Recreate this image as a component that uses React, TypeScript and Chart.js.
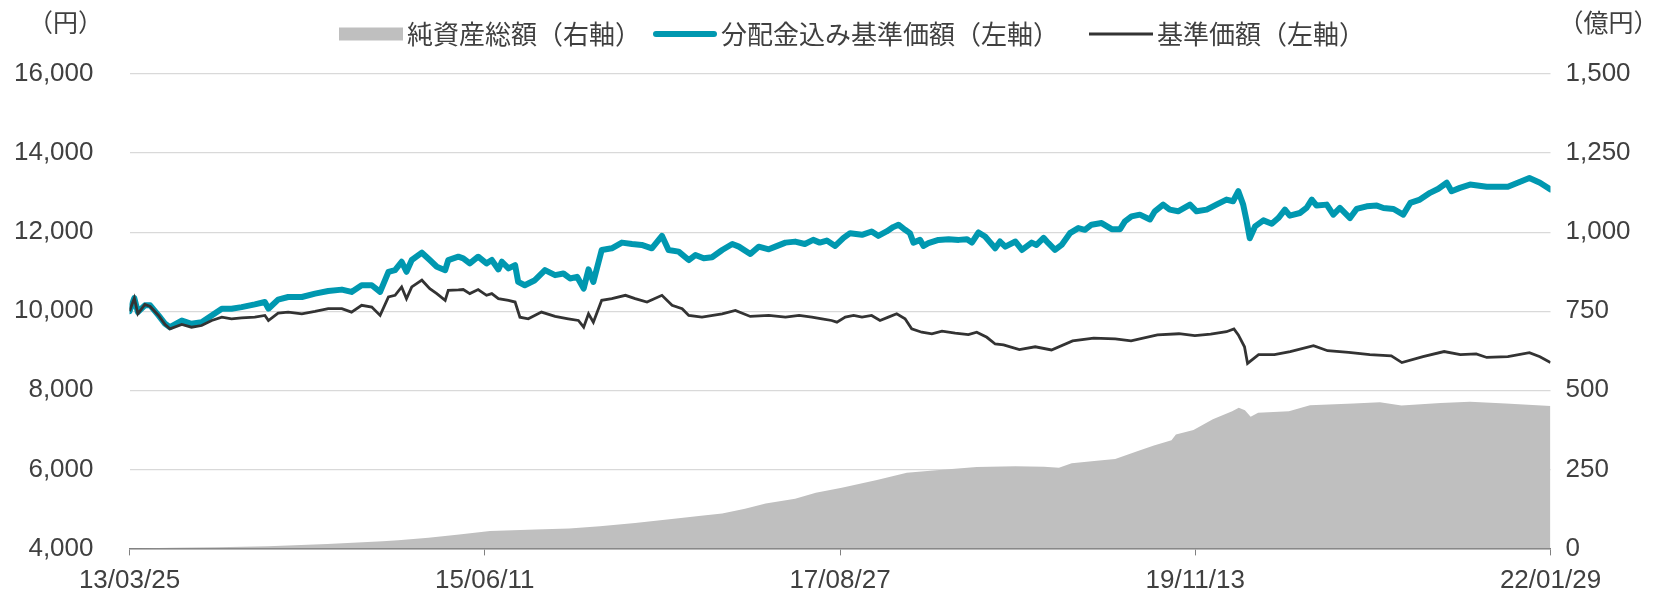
import React, { useEffect, useRef } from 'react';
import { Chart, registerables } from 'chart.js';

Chart.register(...registerables);

// x values are days elapsed since 2013-03-25
const TICK_DAYS = [0, 808, 1616, 2424, 3232];
const TICK_LABELS = ['13/03/25', '15/06/11', '17/08/27', '19/11/13', '22/01/29'];
const LEFT_AXIS_TITLE = '（円）';
const RIGHT_AXIS_TITLE = '（億円）';
const LEGEND_LABELS = ['純資産総額（右軸）', '分配金込み基準価額（左軸）', '基準価額（左軸）'];

// 分配金込み基準価額 [day, 円]
const PRICE_WITH_DIV: [number, number][] = [
  [0, 10000], [11, 10330], [19, 9980], [35, 10148], [47, 10148], [66, 9893], [81, 9681], [92, 9595],
  [119, 9765], [141, 9681], [164, 9722], [187, 9893], [210, 10063], [232, 10063], [255, 10104],
  [285, 10173], [308, 10232], [316, 10063], [338, 10293], [361, 10359], [392, 10359], [422, 10446],
  [452, 10512], [483, 10546], [505, 10487], [528, 10657], [551, 10657], [570, 10487], [589, 10996],
  [604, 11038], [619, 11251], [630, 10996], [642, 11294], [665, 11480], [683, 11294], [699, 11124],
  [718, 11038], [725, 11294], [748, 11378], [759, 11338], [774, 11210], [793, 11378], [812, 11210],
  [824, 11295], [839, 11057], [847, 11251], [862, 11083], [877, 11167], [884, 10741], [899, 10657],
  [922, 10784], [945, 11039], [968, 10912], [987, 10954], [1002, 10828], [1018, 10870], [1033, 10573],
  [1044, 11057], [1055, 10741], [1074, 11549], [1097, 11591], [1120, 11735], [1143, 11700],
  [1165, 11676], [1188, 11591], [1211, 11906], [1226, 11549], [1249, 11507], [1272, 11294],
  [1287, 11421], [1306, 11338], [1325, 11364], [1348, 11549], [1371, 11700], [1386, 11633],
  [1412, 11447], [1431, 11633], [1454, 11566], [1469, 11633], [1492, 11735], [1514, 11760],
  [1536, 11700], [1555, 11804], [1570, 11735], [1586, 11787], [1605, 11651], [1624, 11855],
  [1639, 11974], [1666, 11932], [1688, 12017], [1703, 11906], [1722, 12017], [1737, 12127],
  [1749, 12187], [1764, 12059], [1775, 11974], [1783, 11735], [1798, 11804], [1806, 11651],
  [1817, 11720], [1840, 11804], [1863, 11820], [1886, 11804], [1905, 11820], [1916, 11735],
  [1931, 11991], [1946, 11889], [1969, 11592], [1980, 11762], [1992, 11633], [2015, 11762],
  [2030, 11549], [2052, 11735], [2063, 11676], [2079, 11855], [2090, 11720], [2105, 11549],
  [2120, 11676], [2139, 11974], [2158, 12102], [2173, 12059], [2188, 12187], [2211, 12229],
  [2234, 12076], [2253, 12076], [2264, 12272], [2279, 12397], [2298, 12442], [2321, 12320],
  [2332, 12527], [2351, 12696], [2366, 12569], [2385, 12527], [2412, 12696], [2427, 12527],
  [2450, 12569], [2472, 12696], [2495, 12823], [2510, 12781], [2522, 13034], [2533, 12696],
  [2541, 12270], [2548, 11847], [2560, 12144], [2579, 12297], [2598, 12212], [2613, 12357],
  [2628, 12569], [2639, 12416], [2662, 12484], [2677, 12611], [2689, 12823], [2700, 12671],
  [2723, 12696], [2738, 12442], [2753, 12611], [2776, 12357], [2791, 12586], [2814, 12654],
  [2837, 12671], [2852, 12611], [2875, 12586], [2897, 12442], [2913, 12739], [2935, 12823],
  [2958, 12994], [2977, 13096], [2996, 13249], [3007, 13034], [3026, 13119], [3049, 13204],
  [3087, 13150], [3135, 13150], [3184, 13370], [3208, 13250], [3232, 13080],
];

// 基準価額 [day, 円]
const PRICE: [number, number][] = [
  [0, 10000], [11, 10330], [19, 9935], [35, 10173], [47, 10120], [66, 9893], [81, 9663], [92, 9554],
  [119, 9663], [141, 9595], [164, 9638], [187, 9765], [210, 9849], [232, 9807], [255, 9832],
  [285, 9849], [308, 9893], [316, 9765], [338, 9951], [361, 9977], [392, 9935], [422, 9994],
  [452, 10063], [483, 10063], [505, 9977], [528, 10148], [551, 10104], [570, 9893], [589, 10359],
  [604, 10402], [619, 10614], [630, 10317], [642, 10614], [665, 10785], [683, 10572], [699, 10446],
  [718, 10275], [725, 10530], [748, 10540], [759, 10548], [774, 10445], [793, 10548], [812, 10402],
  [824, 10445], [839, 10318], [862, 10275], [877, 10232], [888, 9849], [907, 9807], [937, 9977],
  [968, 9867], [998, 9807], [1021, 9765], [1033, 9595], [1044, 9934], [1055, 9722], [1074, 10275],
  [1097, 10318], [1128, 10402], [1150, 10318], [1177, 10232], [1211, 10402], [1234, 10148],
  [1257, 10063], [1272, 9893], [1302, 9849], [1348, 9934], [1378, 10020], [1412, 9867], [1454, 9893],
  [1492, 9849], [1523, 9893], [1552, 9849], [1575, 9807], [1597, 9765], [1609, 9722], [1628, 9849],
  [1647, 9893], [1666, 9849], [1688, 9893], [1707, 9765], [1726, 9849], [1745, 9934], [1764, 9807],
  [1779, 9554], [1802, 9468], [1825, 9426], [1848, 9494], [1878, 9443], [1908, 9409], [1927, 9468],
  [1950, 9340], [1969, 9170], [1988, 9150], [2024, 9030], [2060, 9100], [2097, 9020], [2145, 9250],
  [2193, 9320], [2242, 9300], [2278, 9250], [2338, 9400], [2387, 9430], [2423, 9380], [2459, 9420],
  [2495, 9480], [2512, 9550], [2522, 9400], [2536, 9100], [2543, 8680], [2568, 8900], [2604, 8900],
  [2640, 8980], [2693, 9130], [2725, 9000], [2773, 8960], [2821, 8900], [2870, 8870], [2894, 8700],
  [2942, 8850], [2990, 8980], [3027, 8900], [3063, 8920], [3087, 8830], [3135, 8850], [3184, 8950],
  [3208, 8850], [3232, 8700],
];

// 純資産総額 [day, 億円]
const NET_ASSETS: [number, number][] = [
  [0, 0], [100, 2], [200, 4], [315, 7], [450, 14], [576, 23], [611, 26], [680, 34], [750, 44],
  [820, 55], [924, 60], [1000, 63], [1070, 70], [1150, 80], [1249, 95], [1300, 103], [1348, 110],
  [1400, 125], [1447, 142], [1514, 157], [1561, 176], [1620, 192], [1700, 216], [1768, 239],
  [1828, 246], [1927, 257], [2015, 260], [2080, 258], [2114, 255], [2143, 269], [2200, 277],
  [2242, 283], [2292, 307], [2330, 325], [2370, 342], [2380, 360], [2420, 374], [2464, 408],
  [2508, 434], [2523, 445], [2537, 437], [2550, 416], [2567, 429], [2637, 434], [2685, 453],
  [2784, 458], [2844, 462], [2893, 452], [2982, 460], [3049, 464], [3130, 458], [3232, 450],
];

const FONT_NUM = '"Liberation Sans", Arial, sans-serif';
const FONT_JP = '"Noto Sans CJK JP", "Noto Sans", sans-serif';
const TEXT_COLOR = '#404040';
const TEAL = '#0098B0';
const DARK = '#333333';
const GRAY = '#BFBFBF';

const fmt = (v: number) => Number(v).toLocaleString('en-US');

const overlayPlugin = {
  id: 'overlay',
  afterDraw(chart: any) {
    const { ctx, chartArea } = chart;
    ctx.save();
    ctx.font = `25px ${FONT_JP}`;
    ctx.fillStyle = TEXT_COLOR;
    ctx.textBaseline = 'middle';
    ctx.textAlign = 'center';
    ctx.fillText(LEFT_AXIS_TITLE, chartArea.left - 64, 22);
    ctx.fillText(RIGHT_AXIS_TITLE, chartArea.right + 58, 22);

    ctx.font = `26px ${FONT_JP}`;
    ctx.textAlign = 'left';
    const widths = LEGEND_LABELS.map((t) => ctx.measureText(t).width);
    const sw = 64;
    const gap = 4;
    const itemGaps = [12, 30];
    const total =
      widths.reduce((a, b) => a + b, 0) + 3 * (sw + gap) + itemGaps.reduce((a, b) => a + b, 0);
    let x = (chartArea.left + chartArea.right) / 2 + 12 - total / 2;
    const y = 34;
    LEGEND_LABELS.forEach((label, i) => {
      if (i === 0) {
        ctx.fillStyle = GRAY;
        ctx.fillRect(x, y - 6.5, sw, 13);
      } else {
        ctx.strokeStyle = i === 1 ? TEAL : DARK;
        ctx.lineWidth = i === 1 ? 6 : 2.8;
        ctx.lineCap = i === 1 ? 'round' : 'butt';
        ctx.beginPath();
        ctx.moveTo(x + (i === 1 ? 3 : 0), y);
        ctx.lineTo(x + sw - (i === 1 ? 3 : 0), y);
        ctx.stroke();
      }
      ctx.fillStyle = TEXT_COLOR;
      ctx.fillText(label, x + sw + gap, y);
      x += sw + gap + widths[i] + (itemGaps[i] ?? 0);
    });
    ctx.restore();
  },
};

export default function App() {
  const canvasRef = useRef<HTMLCanvasElement | null>(null);

  useEffect(() => {
    if (!canvasRef.current) return;
    const tickFont = { family: FONT_NUM, size: 26 };
    const chart = new Chart(canvasRef.current, {
      type: 'line',
      data: {
        datasets: [
          {
            label: LEGEND_LABELS[2],
            data: PRICE.map(([x, y]) => ({ x, y })),
            yAxisID: 'y',
            borderColor: DARK,
            borderWidth: 2.8,
            pointRadius: 0,
            tension: 0,
            fill: false,
            order: 1,
          },
          {
            label: LEGEND_LABELS[1],
            data: PRICE_WITH_DIV.map(([x, y]) => ({ x, y })),
            yAxisID: 'y',
            borderColor: TEAL,
            borderWidth: 6,
            pointRadius: 0,
            tension: 0,
            fill: false,
            borderJoinStyle: 'round',
            borderCapStyle: 'round',
            order: 2,
          },
          {
            label: LEGEND_LABELS[0],
            data: NET_ASSETS.map(([x, y]) => ({ x, y })),
            yAxisID: 'y2',
            borderColor: GRAY,
            backgroundColor: GRAY,
            borderWidth: 0,
            pointRadius: 0,
            tension: 0,
            fill: 'origin',
            order: 3,
          },
        ],
      },
      options: {
        animation: false,
        responsive: true,
        maintainAspectRatio: false,
        layout: { padding: { top: 74, left: 0, right: 0, bottom: 0 } },
        plugins: { legend: { display: false }, tooltip: { enabled: false } },
        scales: {
          x: {
            type: 'linear',
            min: TICK_DAYS[0],
            max: TICK_DAYS[TICK_DAYS.length - 1],
            afterBuildTicks: (s: any) => {
              s.ticks = TICK_DAYS.map((v) => ({ value: v }));
            },
            afterFit: (s: any) => {
              s.height = 51;
            },
            grid: { drawOnChartArea: false, drawTicks: true, tickLength: 7, color: '#808080' },
            border: { display: true, color: '#808080', width: 1.5 },
            ticks: {
              font: tickFont,
              color: TEXT_COLOR,
              padding: 10,
              maxRotation: 0,
              autoSkip: false,
              callback: (v: any) => {
                const i = TICK_DAYS.indexOf(Number(v));
                return i >= 0 ? TICK_LABELS[i] : '';
              },
            },
          },
          y: {
            position: 'left',
            min: 4000,
            max: 16000,
            afterFit: (s: any) => {
              s.width = 129.5;
            },
            grid: { color: '#D9D9D9', drawTicks: false, lineWidth: 1.2 },
            border: { display: false },
            ticks: { stepSize: 2000, padding: 36, font: tickFont, color: TEXT_COLOR, callback: (v: any) => fmt(v) },
          },
          y2: {
            position: 'right',
            min: 0,
            max: 1500,
            afterFit: (s: any) => {
              s.width = 114.5;
            },
            grid: { display: false, drawTicks: false },
            border: { display: false },
            ticks: { stepSize: 250, padding: 15, font: tickFont, color: TEXT_COLOR, callback: (v: any) => fmt(v) },
          },
        },
      },
      plugins: [overlayPlugin],
    } as any);
    return () => chart.destroy();
  }, []);

  return (
    <div style={{ position: 'fixed', left: 0, top: 0, width: 1665, height: 600, background: '#fff' }}>
      <canvas ref={canvasRef} />
    </div>
  );
}
